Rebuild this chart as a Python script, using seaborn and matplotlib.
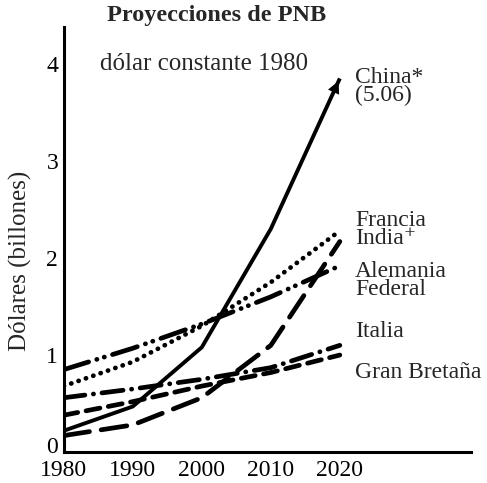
import matplotlib
matplotlib.use("Agg")
import matplotlib.pyplot as plt
import matplotlib.transforms as mtransforms
import numpy as np
import pandas as pd
import seaborn as sns

# Data (values in billions of 1980 dollars)
years = [1980, 1990, 2000, 2010, 2020]
china = [0.22, 0.47, 1.08, 2.30, 3.85]
francia = [0.68, 0.93, 1.30, 1.75, 2.28]
india = [0.17, 0.28, 0.56, 1.10, 2.17]
alemania = [0.85, 1.07, 1.32, 1.60, 1.92]
italia = [0.56, 0.65, 0.75, 0.87, 1.10]
gran_bretana = [0.38, 0.52, 0.68, 0.82, 1.00]

x_ticks = [1980, 1990, 2000, 2010, 2020]
y_ticks = [0, 1, 2, 3, 4]

sns.set_style("white")
plt.rcParams['font.family'] = ['Liberation Serif', 'DejaVu Serif']

series = {
    'China': (china, '-'),
    'Francia': (francia, (0, (0.05, 1.6))),
    'India': (india, (0, (5.5, 2.5))),
    'Alemania': (alemania, (0, (5.5, 1.8, 0.05, 1.6, 0.05, 1.8))),
    'Italia': (italia, (0, (4.5, 1.8, 0.05, 1.8))),
    'Gran Bretaña': (gran_bretana, (0, (3.0, 1.8))),
}

fig = plt.figure(figsize=(4.87, 4.83), dpi=100)
ax = fig.add_axes([0.131, 0.064, 0.836, 0.880])

for name, (vals, ls) in series.items():
    df = pd.DataFrame({'year': years, 'value': vals})
    lw = 2.8 if name == 'China' else 3.4
    sns.lineplot(data=df, x='year', y='value', ax=ax, color='black',
                 linewidth=lw, linestyle=ls, dash_capstyle='round',
                 solid_capstyle='butt')

# arrow head at the end of the China line
ax.annotate('', xy=(years[-1], china[-1]),
            xytext=(years[-2] + 0.85 * (years[-1] - years[-2]),
                    china[-2] + 0.85 * (china[-1] - china[-2])),
            arrowprops=dict(arrowstyle='-|>', mutation_scale=22,
                            color='black', lw=0))

ax.set_xlim(1980, 2039)
ax.set_ylim(0, 4.38)
ax.set_xticks(x_ticks)
ax.set_yticks(y_ticks)
ax.set_xlabel('')
ax.set_ylabel('')
sns.despine(ax=ax)
for s in ['left', 'bottom']:
    ax.spines[s].set_linewidth(2.2)
    ax.spines[s].set_color('black')
ax.tick_params(direction='in', length=9, width=2, colors='black',
               labelsize=17)
ax.tick_params(axis='x', pad=6)
ax.tick_params(axis='y', pad=4)

# lift the "0" label a little so it clears "1980", as in the original
zero_lbl = ax.get_yticklabels()[0]
zero_lbl.set_transform(zero_lbl.get_transform() +
                       mtransforms.ScaledTranslation(0, 0.07, fig.dpi_scale_trans))

# country labels (stacked pairs share one text block)
lab_x = 2022.2
labels = [
    ('China*\n(5.06)', 3.77),
    ('Francia\nIndia⁺', 2.29),
    ('Alemania\nFederal', 1.77),
    ('Italia', 1.24),
    ('Gran Bretaña', 0.82),
]
for txt, yv in labels:
    ax.text(lab_x, yv, txt, fontsize=17, va='center', ha='left',
            linespacing=0.82)

fig.text(0.444, 0.968, 'Proyecciones de PNB', fontsize=17.5,
         fontweight='bold', ha='center', va='center')
ax.text(1985.2, 4.0, 'dólar constante 1980', fontsize=18, va='center')
fig.text(0.042, 0.46, 'Dólares (billones)', fontsize=18,
         rotation=90, ha='center', va='center')

plt.savefig('out.png', dpi=100)
